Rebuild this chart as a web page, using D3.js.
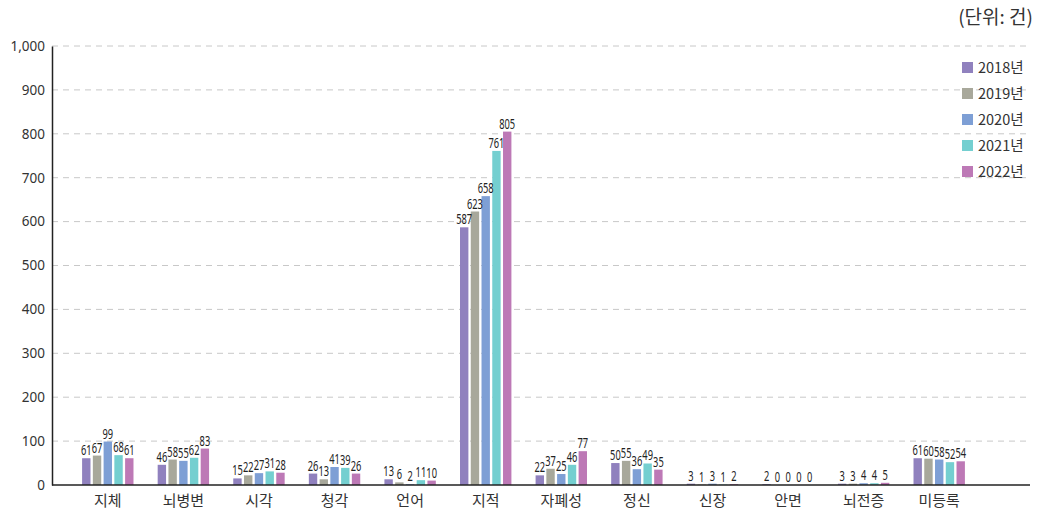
<!DOCTYPE html>
<html><head><meta charset="utf-8">
<script src="https://cdn.jsdelivr.net/npm/d3@7"></script>
<style>
body{margin:0;background:#fff;}
svg{display:block;font-family:"Noto Sans CJK KR","Noto Sans",sans-serif;}
</style></head>
<body>
<svg id="chart" width="1040" height="516"></svg>
<script>
const categories = ["지체","뇌병변","시각","청각","언어","지적","자폐성","정신","신장","안면","뇌전증","미등록"];
const seriesNames = ["2018년","2019년","2020년","2021년","2022년"];
const v2018 = [61,46,15,26,13,587,22,50,3,2,3,61];
const v2019 = [67,58,22,13,6,623,37,55,1,0,3,60];
const v2020 = [99,55,27,41,2,658,25,36,3,0,4,58];
const v2021 = [68,62,31,39,11,761,46,49,1,0,4,52];
const v2022 = [61,83,28,26,10,805,77,35,2,0,5,54];
const yTicks = [0,100,200,300,400,500,600,700,800,900,1000];
const unitLabel = "(단위: 건)";

const seriesValues = [v2018,v2019,v2020,v2021,v2022];
const colors = ["#9081be","#a8a89b","#7e9fd5","#74cfd0","#bd79b6"];

const svg = d3.select("#chart");
const mLeft = 52, mRight = 1030, mTop = 46, mBottom = 485;

const y = d3.scaleLinear().domain([0,1000]).range([mBottom, mTop]);
const x0 = d3.scaleBand().domain(categories).range([70, 977]).paddingInner(0.32).paddingOuter(0.16);
const x1 = d3.scaleBand().domain(seriesNames).range([0, x0.bandwidth()]).paddingInner(0.22);

// gridlines
svg.append("g").selectAll("line").data(yTicks.filter(d=>d>0)).join("line")
  .attr("x1", mLeft).attr("x2", mRight)
  .attr("y1", d=>y(d)).attr("y2", d=>y(d))
  .attr("stroke","#c8c8c8").attr("stroke-dasharray","6,5").attr("stroke-width",1);

// bars
const groups = svg.append("g").selectAll("g").data(categories).join("g")
  .attr("transform", c=>`translate(${x0(c)},0)`);

groups.each(function(c, ci){
  const g = d3.select(this);
  const data = seriesNames.map((s, si)=>({s, si, v: seriesValues[si][ci]}));
  g.selectAll("rect").data(data).join("rect")
    .attr("x", d=>x1(d.s)).attr("width", x1.bandwidth())
    .attr("y", d=>y(d.v)).attr("height", d=>Math.max(0, mBottom - y(d.v)))
    .attr("fill", d=>colors[d.si]);
  g.selectAll("text").data(data).join("text")
    .attr("transform", d=>`translate(${x1(d.s)+x1.bandwidth()/2},${y(d.v)-3}) scale(0.62,1)`)
    .attr("text-anchor","middle")
    .attr("font-family","'Noto Sans','Open Sans',sans-serif")
    .attr("font-size",15).attr("fill","#222")
    .text(d=>d.v);
});

// y axis
const yAxis = d3.axisLeft(y).tickValues(yTicks).tickFormat(d3.format(",")).tickSize(0).tickPadding(7);
const ya = svg.append("g").attr("transform",`translate(${mLeft},0)`).call(yAxis);
ya.select(".domain").attr("stroke","#222").attr("stroke-width",1.5);
ya.selectAll("text").attr("font-size",13.5).attr("fill","#333").attr("font-family","'Noto Sans','Open Sans',sans-serif");

// x axis
const xAxis = d3.axisBottom(x0).tickSize(0).tickPadding(10);
const xa = svg.append("g").attr("transform",`translate(0,${mBottom})`).call(xAxis);
xa.select(".domain").remove();
xa.selectAll("text").attr("font-size",15).attr("fill","#333").attr("font-family","'Noto Sans CJK KR',sans-serif");
svg.append("line").attr("x1",mLeft).attr("x2",mRight).attr("y1",mBottom).attr("y2",mBottom)
  .attr("stroke","#222").attr("stroke-width",1.5);

// legend
const lg = svg.append("g").selectAll("g").data(seriesNames).join("g")
  .attr("transform",(d,i)=>`translate(962,${62 + i*26})`);
lg.append("rect").attr("width",11).attr("height",11).attr("fill",(d,i)=>colors[i]);
lg.append("text").attr("x",16).attr("y",11).attr("font-size",14.5).attr("fill","#333").text(d=>d);

// unit label
svg.append("text").attr("x",1033).attr("y",24).attr("text-anchor","end")
  .attr("font-size",19).attr("fill","#333").text(unitLabel);
</script>
</body></html>
